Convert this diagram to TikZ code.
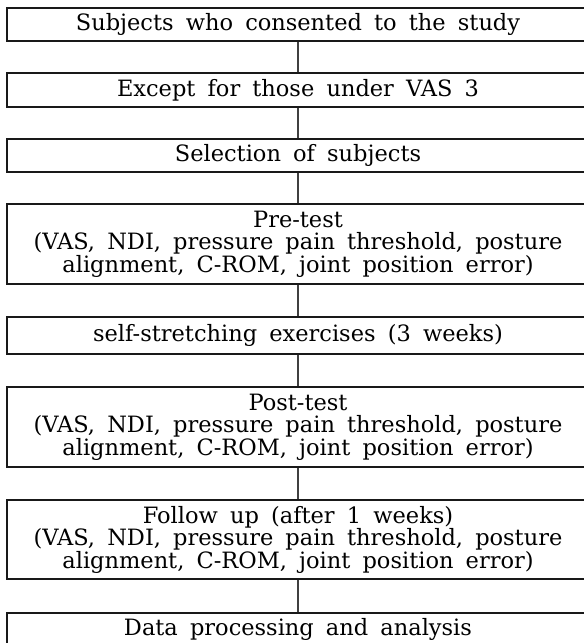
\documentclass[tikz,border=0pt]{standalone}
\usepackage{fontspec}
\setmainfont{DejaVu Serif}[WordSpace=1.7]
\begin{document}
\begin{tikzpicture}[x=1pt,y=-1pt,
  flowbox/.style={draw=black!90, line width=1.2pt, rectangle, minimum width=582pt,
    inner sep=0pt, align=center, font=\fontsize{22.5}{22.5}\selectfont},
  link/.style={draw=black!75, line width=1.2pt}]
\useasboundingbox (0,0) rectangle (584,643);
\clip (0,0) rectangle (584,643);
\node[flowbox, minimum height=33pt] (b1) at (298,24.5) {Subjects who consented to the study};
\node[flowbox, minimum height=34pt] (b2) at (298,90) {Except for those under VAS 3};
\node[flowbox, minimum height=33pt] (b3) at (298,155.5) {Selection of subjects};
\node[flowbox, minimum height=80pt] (b4) at (298,244) {Pre-test\\(VAS, NDI, pressure pain threshold, posture\\alignment, C-ROM, joint position error)};
\node[flowbox, minimum height=37pt] (b5) at (298,335.5) {self-stretching exercises (3 weeks)};
\node[flowbox, minimum height=80pt] (b6) at (298,427) {Post-test\\(VAS, NDI, pressure pain threshold, posture\\alignment, C-ROM, joint position error)};
\node[flowbox, minimum height=79pt] (b7) at (298,539.5) {Follow up (after 1 weeks)\\(VAS, NDI, pressure pain threshold, posture\\alignment, C-ROM, joint position error)};
\node[flowbox, minimum height=33pt] (b8) at (298,629.5) {Data processing and analysis};
\draw[link] (b1.south) -- (b2.north);
\draw[link] (b2.south) -- (b3.north);
\draw[link] (b3.south) -- (b4.north);
\draw[link] (b4.south) -- (b5.north);
\draw[link] (b5.south) -- (b6.north);
\draw[link] (b6.south) -- (b7.north);
\draw[link] (b7.south) -- (b8.north);
\end{tikzpicture}
\end{document}
